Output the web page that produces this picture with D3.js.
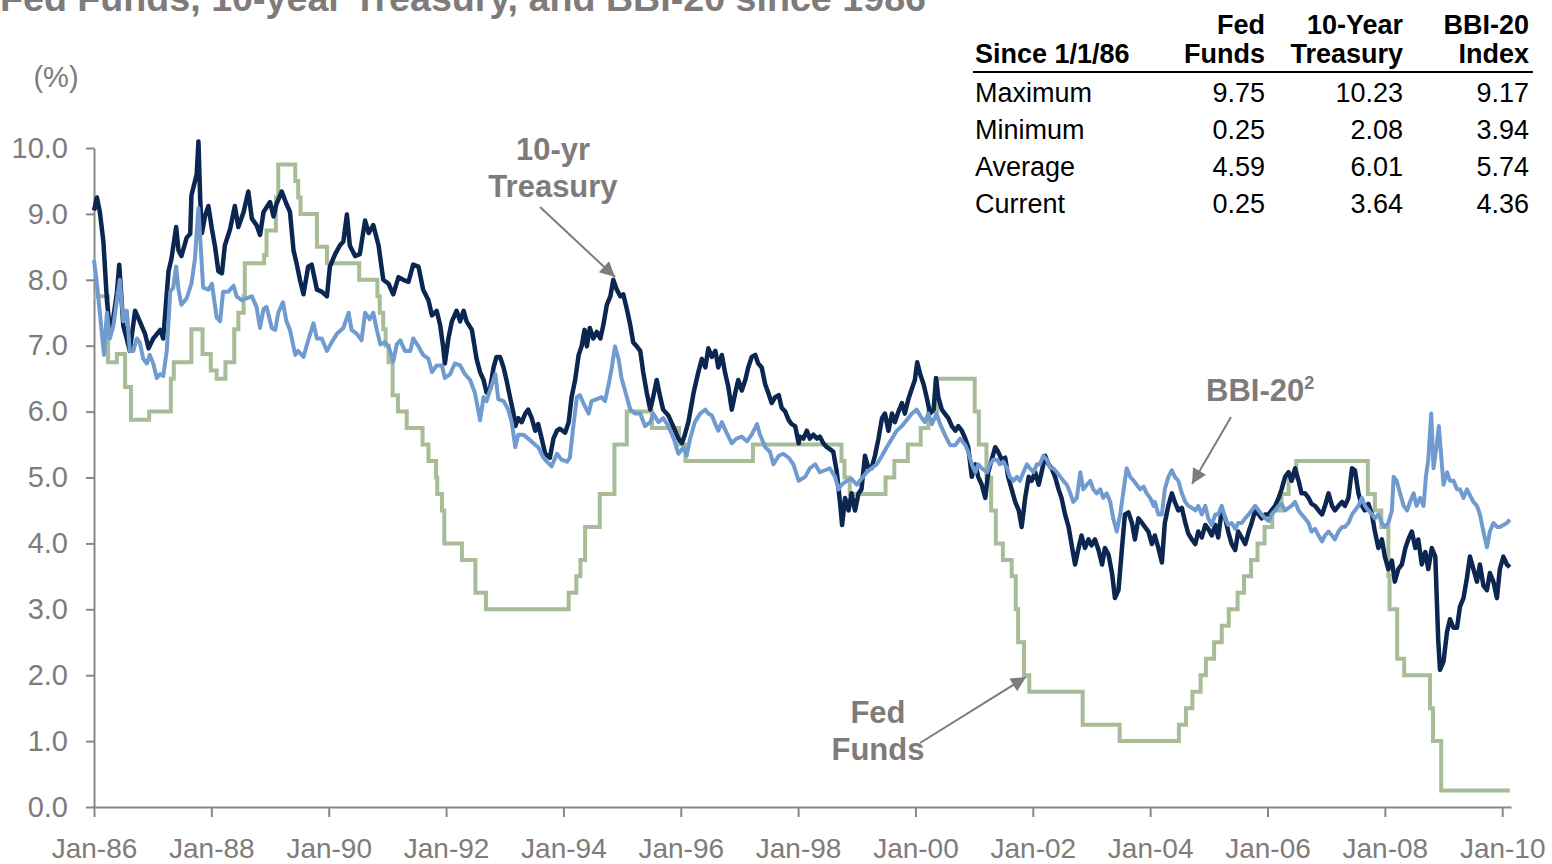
<!DOCTYPE html>
<html>
<head>
<meta charset="utf-8">
<script src="https://cdn.jsdelivr.net/npm/d3@7"></script>
<style>
  body { margin: 0; background: #fff; }
  svg text { font-family: "Liberation Sans", Arial, Helvetica, sans-serif; }
</style>
</head>
<body>
<svg id="chart" width="1552" height="864"></svg>
<script>
// values, [decimal year, percent]
const treasury = [
  [1986.00,9.05],[1986.05,9.25],[1986.10,9.03],[1986.16,8.58],[1986.22,7.69],[1986.27,7.24],[1986.33,7.43],[1986.39,7.80],
  [1986.43,8.23],[1986.50,7.30],[1986.56,7.10],[1986.61,6.92],[1986.70,7.53],[1986.78,7.37],[1986.87,7.18],[1986.93,6.96],
  [1987.01,7.11],[1987.13,7.24],[1987.18,7.11],[1987.27,8.13],[1987.32,8.32],[1987.40,8.80],[1987.44,8.45],[1987.49,8.36],
  [1987.58,8.64],[1987.64,8.70],[1987.66,9.28],[1987.75,9.60],[1987.78,10.10],[1987.81,9.22],[1987.84,8.71],[1987.89,8.96],
  [1987.95,9.12],[1988.01,8.77],[1988.06,8.52],[1988.12,8.13],[1988.18,8.10],[1988.23,8.52],[1988.32,8.77],[1988.40,9.12],
  [1988.46,8.80],[1988.55,9.03],[1988.63,9.34],[1988.69,8.93],[1988.77,8.83],[1988.83,8.68],[1988.89,9.03],[1989.00,9.18],
  [1989.06,8.96],[1989.11,9.15],[1989.20,9.34],[1989.28,9.15],[1989.34,9.03],[1989.40,8.45],[1989.45,8.26],[1989.51,8.00],
  [1989.57,7.78],[1989.65,8.20],[1989.71,8.23],[1989.80,7.85],[1989.88,7.82],[1989.97,7.75],[1990.02,8.20],[1990.11,8.39],
  [1990.19,8.52],[1990.25,8.58],[1990.31,8.99],[1990.36,8.52],[1990.45,8.36],[1990.53,8.39],[1990.62,8.90],[1990.68,8.71],
  [1990.76,8.83],[1990.85,8.52],[1990.93,8.00],[1991.02,7.94],[1991.10,7.78],[1991.19,8.04],[1991.27,8.00],[1991.36,7.97],
  [1991.44,8.23],[1991.53,8.20],[1991.61,7.85],[1991.70,7.69],[1991.76,7.46],[1991.84,7.53],[1991.90,7.31],[1991.95,6.99],
  [1991.98,6.73],[1992.04,7.11],[1992.10,7.37],[1992.18,7.53],[1992.24,7.37],[1992.30,7.53],[1992.35,7.37],[1992.44,7.24],
  [1992.52,6.80],[1992.58,6.60],[1992.64,6.48],[1992.69,6.29],[1992.75,6.35],[1992.81,6.67],[1992.86,6.83],[1992.92,6.83],
  [1992.98,6.67],[1993.03,6.48],[1993.09,6.22],[1993.15,5.97],[1993.18,5.78],[1993.23,5.90],[1993.29,5.84],[1993.35,5.97],
  [1993.40,6.03],[1993.46,5.90],[1993.52,5.71],[1993.57,5.81],[1993.63,5.59],[1993.69,5.36],[1993.77,5.30],[1993.83,5.59],
  [1993.89,5.71],[1993.94,5.74],[1994.03,5.68],[1994.09,5.84],[1994.14,6.22],[1994.20,6.48],[1994.26,6.86],[1994.31,6.99],
  [1994.36,7.24],[1994.40,6.99],[1994.45,7.27],[1994.51,7.11],[1994.57,7.21],[1994.63,7.11],[1994.68,7.31],[1994.74,7.62],
  [1994.80,7.75],[1994.85,8.00],[1994.91,7.85],[1994.97,7.75],[1995.02,7.78],[1995.08,7.56],[1995.14,7.31],[1995.19,7.05],
  [1995.25,6.99],[1995.31,6.92],[1995.36,6.60],[1995.42,6.29],[1995.48,6.03],[1995.53,6.22],[1995.59,6.48],[1995.65,6.22],
  [1995.70,6.03],[1995.79,5.94],[1995.87,5.78],[1995.96,5.59],[1996.02,5.52],[1996.07,5.65],[1996.13,5.84],[1996.22,6.29],
  [1996.30,6.60],[1996.36,6.80],[1996.42,6.67],[1996.47,6.96],[1996.53,6.83],[1996.59,6.92],[1996.64,6.67],[1996.70,6.86],
  [1996.76,6.57],[1996.81,6.38],[1996.87,6.03],[1996.93,6.29],[1996.98,6.48],[1997.04,6.32],[1997.10,6.48],[1997.15,6.67],
  [1997.21,6.83],[1997.27,6.86],[1997.32,6.73],[1997.38,6.67],[1997.44,6.41],[1997.49,6.29],[1997.55,6.13],[1997.61,6.22],
  [1997.67,6.25],[1997.72,6.06],[1997.78,6.00],[1997.84,5.87],[1997.89,5.81],[1997.95,5.78],[1998.01,5.52],[1998.03,5.62],
  [1998.09,5.59],[1998.15,5.71],[1998.20,5.59],[1998.26,5.65],[1998.32,5.59],[1998.37,5.62],[1998.43,5.52],[1998.49,5.46],
  [1998.54,5.43],[1998.60,5.39],[1998.66,5.08],[1998.72,4.57],[1998.75,4.28],[1998.80,4.69],[1998.86,4.50],[1998.91,4.76],
  [1998.97,4.50],[1999.03,4.76],[1999.08,4.82],[1999.14,5.33],[1999.20,5.14],[1999.25,5.14],[1999.31,5.33],[1999.37,5.59],
  [1999.43,5.90],[1999.48,5.97],[1999.54,5.71],[1999.60,5.97],[1999.65,5.84],[1999.71,6.00],[1999.77,6.13],[1999.82,5.97],
  [1999.88,6.19],[1999.94,6.35],[1999.99,6.48],[2000.03,6.75],[2000.08,6.57],[2000.14,6.41],[2000.19,6.22],[2000.25,5.97],
  [2000.31,6.03],[2000.35,6.51],[2000.39,6.22],[2000.45,6.03],[2000.50,5.97],[2000.56,5.90],[2000.62,5.78],[2000.68,5.71],
  [2000.73,5.78],[2000.79,5.71],[2000.85,5.59],[2000.90,5.46],[2000.96,5.01],[2001.02,5.20],[2001.07,5.01],[2001.13,4.89],
  [2001.19,4.69],[2001.24,5.08],[2001.30,5.27],[2001.36,5.46],[2001.41,5.39],[2001.47,5.27],[2001.53,5.30],[2001.58,5.01],
  [2001.64,4.82],[2001.70,4.63],[2001.76,4.50],[2001.81,4.25],[2001.87,4.69],[2001.93,5.01],[2001.98,4.95],[2002.04,5.08],
  [2002.10,4.89],[2002.15,5.08],[2002.21,5.33],[2002.27,5.20],[2002.32,5.14],[2002.38,5.01],[2002.44,4.82],[2002.49,4.69],
  [2002.55,4.44],[2002.61,4.25],[2002.66,3.99],[2002.72,3.68],[2002.78,3.93],[2002.83,4.12],[2002.89,3.93],[2002.95,4.06],
  [2003.00,3.97],[2003.06,4.06],[2003.12,3.90],[2003.18,3.68],[2003.23,3.93],[2003.29,3.83],[2003.35,3.55],[2003.40,3.17],
  [2003.46,3.29],[2003.52,3.93],[2003.57,4.44],[2003.63,4.47],[2003.69,4.31],[2003.74,4.06],[2003.80,4.38],[2003.86,4.31],
  [2003.91,4.25],[2003.97,4.18],[2004.03,3.99],[2004.08,4.12],[2004.14,3.93],[2004.20,3.71],[2004.25,4.31],[2004.31,4.57],
  [2004.37,4.76],[2004.42,4.63],[2004.48,4.50],[2004.54,4.54],[2004.60,4.31],[2004.65,4.15],[2004.71,4.06],[2004.77,3.99],
  [2004.82,4.18],[2004.88,4.09],[2004.94,4.28],[2004.99,4.22],[2005.05,4.12],[2005.11,4.28],[2005.16,4.09],[2005.22,4.50],
  [2005.28,4.38],[2005.33,4.18],[2005.39,3.99],[2005.45,3.90],[2005.50,4.18],[2005.56,4.09],[2005.62,3.99],[2005.68,4.18],
  [2005.73,4.31],[2005.79,4.50],[2005.85,4.44],[2005.90,4.38],[2005.96,4.44],[2006.02,4.44],[2006.07,4.50],[2006.13,4.57],
  [2006.19,4.69],[2006.24,4.82],[2006.30,5.01],[2006.36,5.08],[2006.41,4.95],[2006.47,5.14],[2006.53,4.95],[2006.58,4.76],
  [2006.64,4.76],[2006.70,4.69],[2006.75,4.60],[2006.81,4.57],[2006.87,4.50],[2006.93,4.44],[2006.98,4.57],[2007.04,4.76],
  [2007.10,4.57],[2007.15,4.50],[2007.21,4.57],[2007.27,4.63],[2007.32,4.57],[2007.38,4.69],[2007.44,5.14],[2007.49,5.11],
  [2007.55,4.76],[2007.61,4.57],[2007.66,4.50],[2007.72,4.60],[2007.78,4.44],[2007.83,4.18],[2007.89,3.93],[2007.95,4.06],
  [2008.00,3.80],[2008.06,3.61],[2008.12,3.74],[2008.17,3.42],[2008.23,3.61],[2008.29,3.68],[2008.35,3.93],[2008.40,4.06],
  [2008.46,4.18],[2008.52,3.93],[2008.57,4.06],[2008.63,3.68],[2008.69,3.87],[2008.74,3.61],[2008.80,3.93],[2008.86,3.80],
  [2008.88,3.29],[2008.91,2.53],[2008.94,2.08],[2009.00,2.21],[2009.06,2.66],[2009.11,2.85],[2009.17,2.72],[2009.23,2.72],
  [2009.28,3.04],[2009.34,3.17],[2009.40,3.48],[2009.45,3.80],[2009.51,3.61],[2009.57,3.42],[2009.62,3.68],[2009.68,3.36],
  [2009.74,3.29],[2009.79,3.55],[2009.85,3.42],[2009.91,3.17],[2009.96,3.61],[2010.02,3.80],[2010.08,3.68],[2010.13,3.64]
];

const bbi20 = [
  [1986.00,8.30],[1986.05,7.94],[1986.10,7.50],[1986.17,6.86],[1986.22,7.50],[1986.27,7.11],[1986.33,7.30],[1986.39,7.69],
  [1986.44,8.00],[1986.50,7.37],[1986.56,7.53],[1986.61,6.92],[1986.67,6.92],[1986.73,7.11],[1986.78,7.05],[1986.84,6.80],
  [1986.90,6.73],[1986.95,6.86],[1987.01,6.73],[1987.07,6.51],[1987.13,6.57],[1987.18,6.54],[1987.24,6.92],[1987.30,7.82],
  [1987.35,7.88],[1987.40,8.20],[1987.44,7.85],[1987.49,7.62],[1987.58,7.72],[1987.66,7.94],[1987.72,8.32],[1987.75,8.71],
  [1987.78,9.09],[1987.81,8.64],[1987.86,7.88],[1987.95,7.85],[1988.01,7.94],[1988.09,7.43],[1988.15,7.37],[1988.20,7.82],
  [1988.29,7.82],[1988.38,7.91],[1988.43,7.75],[1988.52,7.69],[1988.60,7.72],[1988.69,7.75],[1988.77,7.59],[1988.83,7.27],
  [1988.89,7.56],[1988.94,7.59],[1989.03,7.27],[1989.09,7.24],[1989.14,7.50],[1989.22,7.66],[1989.28,7.37],[1989.34,7.24],
  [1989.43,6.86],[1989.48,6.92],[1989.57,6.83],[1989.65,7.08],[1989.74,7.34],[1989.80,7.11],[1989.88,7.11],[1989.97,6.92],
  [1990.05,7.05],[1990.14,7.18],[1990.25,7.27],[1990.34,7.50],[1990.39,7.24],[1990.48,7.18],[1990.56,7.08],[1990.62,7.50],
  [1990.70,7.40],[1990.76,7.50],[1990.82,7.24],[1990.88,7.02],[1990.96,7.05],[1991.02,6.99],[1991.10,6.76],[1991.16,7.02],
  [1991.22,7.08],[1991.30,6.92],[1991.39,6.92],[1991.44,7.11],[1991.53,6.99],[1991.61,6.86],[1991.70,6.80],[1991.76,6.60],
  [1991.84,6.70],[1991.93,6.70],[1991.98,6.51],[1992.07,6.57],[1992.15,6.73],[1992.24,6.70],[1992.32,6.57],[1992.41,6.48],
  [1992.49,6.29],[1992.58,5.87],[1992.64,6.22],[1992.69,6.16],[1992.78,6.41],[1992.84,6.57],[1992.89,6.19],[1992.98,6.16],
  [1993.06,6.03],[1993.12,5.84],[1993.18,5.46],[1993.23,5.65],[1993.32,5.65],[1993.40,5.59],[1993.49,5.52],[1993.57,5.46],
  [1993.66,5.30],[1993.72,5.24],[1993.80,5.17],[1993.89,5.36],[1993.97,5.27],[1994.06,5.24],[1994.11,5.30],[1994.17,5.78],
  [1994.23,6.22],[1994.28,6.25],[1994.34,6.13],[1994.43,5.97],[1994.48,6.16],[1994.57,6.19],[1994.65,6.22],[1994.71,6.16],
  [1994.77,6.41],[1994.82,6.64],[1994.88,6.99],[1994.94,6.80],[1994.99,6.51],[1995.05,6.32],[1995.14,6.03],[1995.22,5.97],
  [1995.31,5.97],[1995.39,5.78],[1995.48,5.84],[1995.53,5.97],[1995.62,5.84],[1995.70,5.90],[1995.79,5.78],[1995.88,5.59],
  [1995.96,5.36],[1996.05,5.46],[1996.10,5.33],[1996.16,5.59],[1996.24,5.84],[1996.33,5.97],[1996.42,6.03],[1996.47,5.97],
  [1996.53,5.94],[1996.59,5.81],[1996.64,5.71],[1996.70,5.84],[1996.78,5.68],[1996.87,5.52],[1996.95,5.59],[1997.04,5.62],
  [1997.13,5.55],[1997.21,5.65],[1997.30,5.81],[1997.35,5.65],[1997.44,5.46],[1997.52,5.39],[1997.58,5.20],[1997.67,5.33],
  [1997.75,5.36],[1997.84,5.30],[1997.92,5.20],[1998.01,4.95],[1998.12,5.01],[1998.20,5.14],[1998.29,5.20],[1998.37,5.08],
  [1998.46,5.11],[1998.54,5.14],[1998.63,5.01],[1998.69,4.82],[1998.74,4.89],[1998.83,4.95],[1998.91,4.98],[1999.00,4.89],
  [1999.08,4.98],[1999.17,5.08],[1999.25,5.14],[1999.34,5.20],[1999.43,5.33],[1999.51,5.46],[1999.60,5.59],[1999.68,5.71],
  [1999.77,5.78],[1999.85,5.87],[1999.94,5.97],[2000.02,6.03],[2000.08,5.94],[2000.16,5.84],[2000.22,5.97],[2000.28,5.81],
  [2000.36,5.97],[2000.42,5.81],[2000.50,5.65],[2000.59,5.49],[2000.68,5.49],[2000.76,5.59],[2000.85,5.49],[2000.90,5.39],
  [2000.96,5.20],[2001.02,5.08],[2001.07,5.20],[2001.13,5.14],[2001.22,5.08],[2001.27,5.20],[2001.33,5.27],[2001.39,5.27],
  [2001.44,5.20],[2001.50,5.24],[2001.56,5.14],[2001.61,5.01],[2001.67,4.95],[2001.73,5.01],[2001.78,4.95],[2001.84,5.08],
  [2001.90,5.20],[2001.95,5.14],[2002.01,5.08],[2002.07,5.20],[2002.12,5.20],[2002.18,5.33],[2002.24,5.27],[2002.30,5.14],
  [2002.35,5.14],[2002.41,5.08],[2002.47,5.01],[2002.52,4.95],[2002.58,4.89],[2002.64,4.76],[2002.69,4.63],[2002.75,4.69],
  [2002.81,5.08],[2002.86,4.82],[2002.92,4.89],[2002.98,4.95],[2003.03,4.82],[2003.09,4.76],[2003.15,4.82],[2003.20,4.69],
  [2003.26,4.76],[2003.32,4.63],[2003.37,4.38],[2003.43,4.18],[2003.49,4.44],[2003.54,4.76],[2003.60,5.14],[2003.66,5.01],
  [2003.72,4.95],[2003.77,4.89],[2003.83,4.82],[2003.89,4.86],[2003.94,4.76],[2004.00,4.69],[2004.06,4.57],[2004.08,4.63],
  [2004.14,4.44],[2004.20,4.44],[2004.25,4.82],[2004.31,5.01],[2004.37,5.11],[2004.42,5.01],[2004.48,4.95],[2004.54,4.76],
  [2004.60,4.63],[2004.65,4.57],[2004.71,4.54],[2004.77,4.50],[2004.82,4.57],[2004.88,4.44],[2004.94,4.57],[2004.99,4.38],
  [2005.05,4.28],[2005.11,4.44],[2005.16,4.44],[2005.22,4.57],[2005.28,4.38],[2005.33,4.28],[2005.39,4.31],[2005.45,4.22],
  [2005.50,4.31],[2005.56,4.31],[2005.62,4.38],[2005.68,4.44],[2005.73,4.50],[2005.79,4.57],[2005.85,4.50],[2005.90,4.44],
  [2005.96,4.38],[2006.02,4.34],[2006.07,4.44],[2006.13,4.50],[2006.19,4.57],[2006.24,4.60],[2006.30,4.50],[2006.36,4.54],
  [2006.41,4.57],[2006.47,4.63],[2006.53,4.50],[2006.58,4.44],[2006.64,4.38],[2006.70,4.31],[2006.75,4.18],[2006.81,4.22],
  [2006.87,4.12],[2006.93,4.03],[2006.98,4.12],[2007.04,4.18],[2007.10,4.12],[2007.15,4.06],[2007.21,4.18],[2007.27,4.25],
  [2007.32,4.25],[2007.38,4.31],[2007.44,4.44],[2007.49,4.50],[2007.55,4.57],[2007.61,4.69],[2007.66,4.57],[2007.72,4.50],
  [2007.78,4.44],[2007.83,4.38],[2007.89,4.44],[2007.95,4.31],[2008.00,4.25],[2008.06,4.31],[2008.12,4.50],[2008.15,5.01],
  [2008.20,4.95],[2008.26,4.76],[2008.32,4.57],[2008.38,4.50],[2008.43,4.63],[2008.49,4.76],[2008.54,4.57],[2008.60,4.69],
  [2008.66,4.57],[2008.70,5.01],[2008.74,5.27],[2008.79,5.97],[2008.83,5.14],[2008.88,5.46],[2008.92,5.78],[2008.96,5.33],
  [2009.00,4.89],[2009.06,5.08],[2009.11,4.95],[2009.17,4.95],[2009.23,4.82],[2009.28,4.82],[2009.34,4.69],[2009.40,4.82],
  [2009.45,4.73],[2009.51,4.63],[2009.57,4.57],[2009.62,4.44],[2009.68,4.18],[2009.74,3.94],[2009.79,4.18],[2009.85,4.31],
  [2009.91,4.25],[2009.96,4.25],[2010.02,4.28],[2010.08,4.31],[2010.13,4.36]
];

// fed funds target: [start of step, rate]
const fedFunds = [
  [1986.00,7.75],[1986.24,6.75],[1986.39,6.875],[1986.53,6.375],[1986.63,5.875],[1986.94,6.0],[1987.31,6.5],[1987.36,6.75],
  [1987.66,7.25],[1987.85,6.875],[1987.99,6.625],[1988.09,6.5],[1988.24,6.75],[1988.39,7.25],[1988.46,7.5],[1988.55,7.75],
  [1988.57,8.25],[1988.90,8.375],[1988.94,8.75],[1989.10,9.25],[1989.14,9.75],[1989.43,9.5],[1989.48,9.25],[1989.52,9.0],
  [1989.80,8.5],[1989.97,8.25],[1990.52,8.0],[1990.83,7.75],[1990.87,7.5],[1990.93,7.25],[1990.97,7.0],[1991.02,6.75],
  [1991.09,6.25],[1991.18,6.0],[1991.33,5.75],[1991.60,5.5],[1991.70,5.25],[1991.83,5.0],[1991.85,4.75],[1991.93,4.5],
  [1991.97,4.0],[1992.27,3.75],[1992.50,3.25],[1992.68,3.0],[1994.09,3.25],[1994.22,3.5],[1994.29,3.75],[1994.37,4.25],
  [1994.62,4.75],[1994.87,5.5],[1995.08,6.0],[1995.51,5.75],[1995.97,5.5],[1996.08,5.25],[1997.23,5.5],[1998.74,5.25],
  [1998.79,5.0],[1998.88,4.75],[1999.49,5.0],[1999.64,5.25],[1999.87,5.5],[2000.09,5.75],[2000.22,6.0],[2000.37,6.5],
  [2001.01,6.0],[2001.08,5.5],[2001.21,5.0],[2001.29,4.5],[2001.37,4.0],[2001.49,3.75],[2001.64,3.5],[2001.71,3.0],
  [2001.75,2.5],[2001.85,2.0],[2001.94,1.75],[2002.85,1.25],[2003.48,1.0],[2004.49,1.25],[2004.61,1.5],[2004.72,1.75],
  [2004.86,2.0],[2004.95,2.25],[2005.09,2.5],[2005.22,2.75],[2005.34,3.0],[2005.49,3.25],[2005.60,3.5],[2005.72,3.75],
  [2005.83,4.0],[2005.95,4.25],[2006.08,4.5],[2006.24,4.75],[2006.36,5.0],[2006.49,5.25],[2007.71,4.75],[2007.83,4.5],
  [2007.94,4.25],[2008.06,3.5],[2008.08,3.0],[2008.21,2.25],[2008.33,2.0],[2008.77,1.5],[2008.82,1.0],[2008.96,0.25],
  [2010.13,0.25]
];

const xTickYears = [1986, 1988, 1990, 1992, 1994, 1996, 1998, 2000, 2002, 2004, 2006, 2008, 2010];
const xTickLabels = ["Jan-86","Jan-88","Jan-90","Jan-92","Jan-94","Jan-96","Jan-98","Jan-00","Jan-02","Jan-04","Jan-06","Jan-08","Jan-10"];
const yTicks = [0,1,2,3,4,5,6,7,8,9,10];

// summary table
const tableHead1 = ["Fed", "10-Year", "BBI-20"];
const tableHead2 = ["Funds", "Treasury", "Index"];
const rowLabels = ["Maximum", "Minimum", "Average", "Current"];
const fedStats = ["9.75", "0.25", "4.59", "0.25"];
const tsyStats = ["10.23", "2.08", "6.01", "3.64"];
const bbiStats = ["9.17", "3.94", "5.74", "4.36"];

const gray = "#807b7b";
const svg = d3.select("#chart");

const x = d3.scaleLinear().domain([1986, 2010.15]).range([94, 1511]);
const y = d3.scaleLinear().domain([0, 10]).range([807, 148]);

// title, mostly cut off at the top edge like the source
svg.append("text")
  .attr("x", 0).attr("y", 11)
  .attr("textLength", 926).attr("lengthAdjust", "spacingAndGlyphs")
  .style("font-size", "36px").style("font-weight", "bold").style("fill", gray)
  .text("Fed Funds, 10-year Treasury, and BBI-20 since 1986");

svg.append("text")
  .attr("x", 56).attr("y", 87).attr("text-anchor", "middle")
  .style("font-size", "29px").style("fill", gray)
  .text("(%)");

// axes
const yAxis = svg.append("g")
  .attr("transform", "translate(94,0)")
  .call(d3.axisLeft(y).tickValues(yTicks).tickFormat(d3.format(".1f")).tickSize(8).tickSizeOuter(0));
yAxis.selectAll("text").attr("x", -26).style("font-size", "29px").style("fill", gray);

const xAxis = svg.append("g")
  .attr("transform", "translate(0,807)")
  .call(d3.axisBottom(x).tickValues(xTickYears).tickFormat((d, i) => xTickLabels[i]).tickSize(10).tickSizeOuter(0));
xAxis.selectAll("text").attr("y", 51).attr("dy", null).style("font-size", "28px").style("fill", gray);

svg.selectAll(".domain, .tick line").attr("stroke", "#8a8686").attr("stroke-width", 2);

// series
const stepLine = d3.line().x(d => x(d[0])).y(d => y(d[1])).curve(d3.curveStepAfter);
const line = d3.line().x(d => x(d[0])).y(d => y(d[1]));

svg.append("path")
  .datum(fedFunds)
  .attr("d", stepLine)
  .attr("fill", "none").attr("stroke", "#a8bc97").attr("stroke-width", 4);

svg.append("path")
  .datum(treasury)
  .attr("d", line)
  .attr("fill", "none").attr("stroke", "#0b2650").attr("stroke-width", 4.5)
  .attr("stroke-linejoin", "round");

svg.append("path")
  .datum(bbi20)
  .attr("d", line)
  .attr("fill", "none").attr("stroke", "#6f9bd0").attr("stroke-width", 4)
  .attr("stroke-linejoin", "round");

// callouts
svg.append("defs").append("marker")
  .attr("id", "arrow")
  .attr("markerUnits", "userSpaceOnUse")
  .attr("viewBox", "0 0 10 10")
  .attr("refX", 10).attr("refY", 5)
  .attr("markerWidth", 17).attr("markerHeight", 15)
  .attr("orient", "auto")
  .append("path").attr("d", "M0,0L10,5L0,10z").attr("fill", gray);

const arrows = [[540, 207, 615, 277], [1231, 417, 1192, 484], [920, 743, 1026, 677]];
arrows.forEach(a => {
  svg.append("line")
    .attr("x1", a[0]).attr("y1", a[1]).attr("x2", a[2]).attr("y2", a[3])
    .attr("stroke", gray).attr("stroke-width", 2)
    .attr("marker-end", "url(#arrow)");
});

function callout(lines, cx, y0) {
  lines.forEach((t, i) => {
    svg.append("text")
      .attr("x", cx).attr("y", y0 + i * 37).attr("text-anchor", "middle")
      .style("font-size", "31px").style("font-weight", "bold").style("fill", gray)
      .text(t);
  });
}
callout(["10-yr", "Treasury"], 553, 160);
callout(["Fed", "Funds"], 878, 723);

const bbiLabel = svg.append("text")
  .attr("x", 1206).attr("y", 401)
  .style("font-size", "31px").style("font-weight", "bold").style("fill", gray);
bbiLabel.append("tspan").text("BBI-20");
bbiLabel.append("tspan").attr("dy", -12).style("font-size", "18px").text("2");

// table
const colRight = [1265, 1403, 1529];
const table = svg.append("g").style("font-size", "27px").style("fill", "#000");

table.append("text").attr("x", 975).attr("y", 63).style("font-weight", "bold").text("Since 1/1/86");
tableHead1.forEach((t, i) => {
  table.append("text").attr("x", colRight[i]).attr("y", 34).attr("text-anchor", "end")
    .style("font-weight", "bold").text(t);
});
tableHead2.forEach((t, i) => {
  table.append("text").attr("x", colRight[i]).attr("y", 63).attr("text-anchor", "end")
    .style("font-weight", "bold").text(t);
});
table.append("line").attr("x1", 973).attr("x2", 1533).attr("y1", 72).attr("y2", 72)
  .attr("stroke", "#000").attr("stroke-width", 2);

rowLabels.forEach((t, r) => {
  const yy = 102 + r * 37;
  table.append("text").attr("x", 975).attr("y", yy).text(t);
  [fedStats, tsyStats, bbiStats].forEach((col, c) => {
    table.append("text").attr("x", colRight[c]).attr("y", yy).attr("text-anchor", "end").text(col[r]);
  });
});
</script>
</body>
</html>
